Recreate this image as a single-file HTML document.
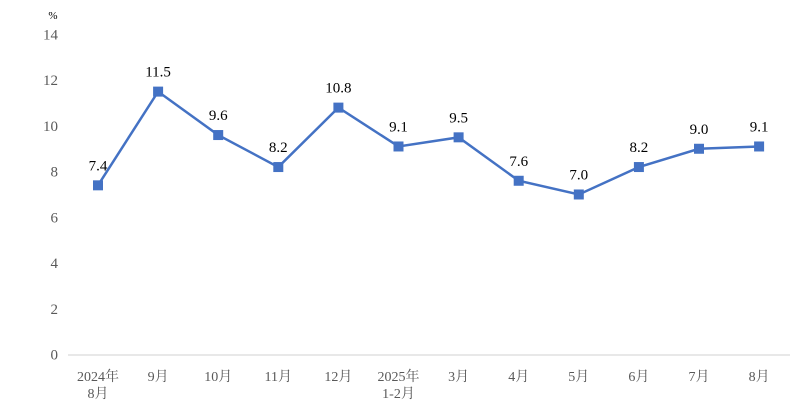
<!DOCTYPE html>
<html><head><meta charset="utf-8"><style>
body{margin:0;background:#fff}
svg text{font-family:"Liberation Serif","Noto Serif CJK SC",serif}
</style></head><body>
<svg id="c" width="797" height="414"></svg>
<script>
const categories=["2024年|8月","9月","10月","11月","12月","2025年|1-2月","3月","4月","5月","6月","7月","8月"];
const values=[7.4,11.5,9.6,8.2,10.8,9.1,9.5,7.6,7.0,8.2,9.0,9.1];
const yTicks=[0,2,4,6,8,10,12,14];
const NS="http://www.w3.org/2000/svg";
const svg=document.getElementById('c');
const y=v=>354.5-v*22.86;
const x=i=>98+i*60.1;
function el(t,a,txt){const e=document.createElementNS(NS,t);for(const k in a)e.setAttribute(k,a[k]);if(txt!=null)e.textContent=txt;svg.appendChild(e);return e;}
let ax=el('line',{x1:68,x2:790,y1:355,y2:355,stroke:'#d9d9d9','stroke-width':1.3});


let u=el('text',{x:53,y:19,'font-size':11,'text-anchor':'middle',fill:'#000'},'%');


yTicks.forEach(t=>{
 const e=el('text',{x:58,y:y(t)+5,'font-size':15,'text-anchor':'end',fill:'#595959'},t);
 
 
});
categories.forEach((c,i)=>{
 const parts=c.split('|');
 parts.forEach((p,j)=>{
  const e=el('text',{x:x(i),y:381+j*17,'font-size':14,'text-anchor':'middle',fill:'#595959'},p);
  
  
 });
});
const pl=el('polyline',{points:values.map((v,i)=>x(i)+','+y(v)).join(' '),fill:'none',stroke:'#4472c4','stroke-width':2.5});


values.forEach((v,i)=>{
 const m=el('rect',{x:x(i)-5,y:y(v)-5,width:10,height:10,fill:'#4472c4'});
 
 
 const t=el('text',{x:x(i),y:y(v)-15,'font-size':15,'text-anchor':'middle',fill:'#000'},v.toFixed(1));
 
 
});
</script>
</body></html>
